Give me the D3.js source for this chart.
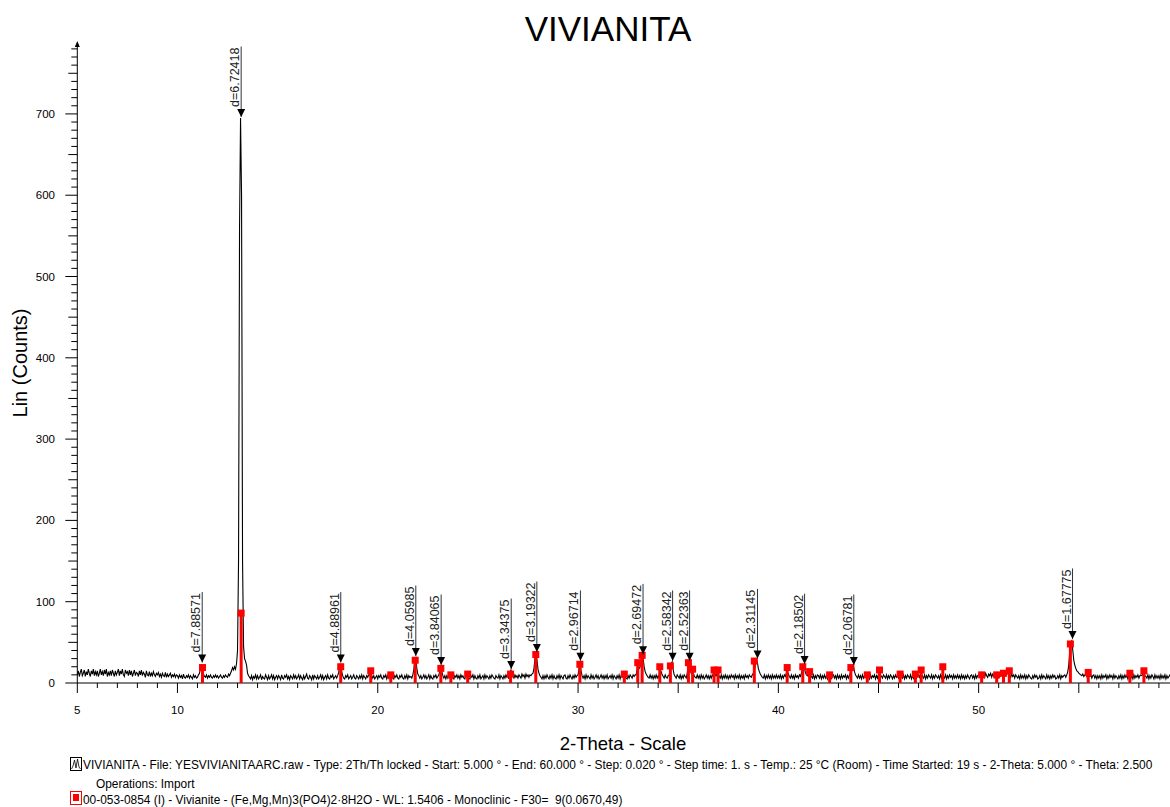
<!DOCTYPE html>
<html><head><meta charset="utf-8">
<script src="https://cdn.jsdelivr.net/npm/d3@7"></script>
<style>body{margin:0;background:#fff;} svg{display:block;font-family:"Liberation Sans",Arial,sans-serif;}</style>
</head><body><svg id="c" width="1170" height="807"></svg>
<script>
const chartTitle = "VIVIANITA";
const xTitle = "2-Theta - Scale";
const yTitle = "Lin (Counts)";
const xTickLabels = [5, 10, 20, 30, 40, 50];
const xMajorTicks = [5, 10, 20, 30, 35, 40, 45, 50, 55];
const yTickLabels = [0, 100, 200, 300, 400, 500, 600, 700];
const wavelength = 1.5406;
const patternStart = 5, patternStep = 0.05;
const counts = [
10,15,8,13,17,9,12,16,8,14,10,17,12,8,15,11,17,9,14,10,
15,8,12,17,10,14,9,16,11,17,8,13,10,15,9,16,12,8,15,10,
13,17,9,15,11,17,10,8,16,12,14,9,16,10,15,8,12,16,9,13,
12,8,15,10,16,9,13,11,7,15,10,9,14,8,12,9,14,10,8,12,
10,13,8,11,7,12,9,8,13,7,11,8,10,12,7,10,8,11,7,10,
9,6,10,7,9,5,11,7,6,9,7,10,6,9,7,5,10,7,9,6,
7,10,12,18,23,17,11,8,7,10,6,9,7,10,7,6,9,7,10,7,
9,6,8,10,7,6,9,7,10,8,7,11,9,12,15,19,16,20,17,24,
40,150,560,695,600,150,45,30,27,22,12,9,7,5,9,4,8,6,10,5,
9,5,7,10,4,8,6,5,10,7,4,9,5,7,10,5,9,4,7,9,
5,9,7,4,10,6,5,9,7,10,5,8,4,9,7,5,10,6,9,5,
7,10,5,9,6,4,9,5,8,11,6,5,9,7,4,10,5,9,7,5,
9,5,7,10,5,9,4,7,9,5,10,6,5,9,7,10,5,7,9,6,
9,13,21,23,14,9,6,5,9,7,10,5,7,9,5,7,10,6,5,9,
7,5,9,6,10,5,9,7,5,9,7,10,10,12,9,6,9,5,7,9,
5,9,7,10,6,5,9,7,10,5,9,6,10,10,8,6,5,9,7,10,
6,5,9,7,10,6,5,9,6,10,5,9,7,8,6,10,16,29,31,18,
11,9,6,9,5,7,10,6,9,5,7,10,5,9,6,5,9,7,10,6,
8,10,15,20,14,9,6,9,5,9,6,10,7,10,8,6,5,9,7,10,
6,9,5,10,7,9,6,5,10,10,8,6,5,9,7,10,5,9,6,5,
9,6,10,5,7,9,5,10,6,9,7,5,9,6,10,8,6,5,9,7,
6,10,5,9,7,5,9,6,10,7,9,5,13,16,11,8,6,10,7,9,
6,10,8,6,11,8,10,6,11,8,10,7,10,9,11,12,18,30,37,28,
17,12,9,7,5,9,5,9,6,10,7,5,9,6,10,5,9,6,5,9,
6,10,5,9,7,5,9,10,6,5,9,6,10,7,5,9,6,10,7,9,
10,18,26,15,9,6,9,5,10,6,9,7,5,10,6,9,5,7,10,6,
9,5,7,10,6,9,5,9,6,10,5,7,9,6,10,5,9,7,5,9,
6,10,5,9,7,9,11,8,6,5,9,6,10,8,6,10,8,10,10,17,
22,18,20,28,34,30,20,14,11,9,7,6,10,6,9,5,9,6,10,6,
9,6,13,14,10,8,6,10,7,6,9,10,15,24,26,16,10,8,6,10,
8,6,10,5,9,6,10,8,6,12,22,26,17,12,14,12,9,7,6,10,
6,9,5,10,6,9,5,7,10,6,9,5,9,6,10,8,11,9,11,8,
11,8,6,10,5,9,6,10,6,9,5,9,6,10,7,9,5,10,6,9,
6,10,5,9,6,9,5,10,7,9,6,10,8,7,10,12,16,22,28,26,
18,14,11,9,7,6,10,5,9,6,10,6,9,5,10,6,9,6,10,6,
9,6,10,5,9,6,10,8,12,14,11,8,6,10,6,9,5,10,7,9,
6,10,8,12,17,21,19,13,10,9,8,12,10,8,6,10,5,9,6,10,
9,6,10,5,9,6,10,6,9,5,10,8,11,6,9,10,6,9,5,10,
6,9,5,10,6,9,7,10,5,9,6,10,12,17,20,21,14,10,8,6,
10,6,9,5,10,6,9,11,9,6,9,5,10,6,9,7,10,5,9,6,
11,13,10,8,6,10,8,6,10,5,9,6,10,8,5,9,6,10,7,9,
6,10,11,8,6,10,5,9,6,10,8,6,10,5,9,6,11,9,6,9,
10,6,12,11,8,6,10,5,9,6,10,8,6,10,5,9,6,10,8,6,
9,5,10,6,11,8,6,10,5,9,6,10,7,9,5,10,6,9,6,10,
6,9,5,10,6,9,5,9,6,10,7,5,9,10,6,9,5,10,6,9,
10,11,8,12,9,11,7,12,9,7,11,9,12,7,11,9,7,11,9,12,
7,11,9,12,7,11,12,9,11,12,11,9,7,11,8,10,6,10,8,6,
9,5,10,6,9,6,10,5,9,6,10,8,6,5,9,6,10,7,9,5,
6,9,5,10,6,9,7,5,10,6,9,5,9,6,10,7,9,5,6,9,
6,10,5,9,7,9,10,7,10,14,22,40,50,52,40,28,22,18,15,14,
12,11,10,9,11,8,10,11,8,12,10,8,10,6,9,10,6,9,5,9,
6,9,5,10,6,9,7,10,5,9,6,10,7,9,5,10,6,9,7,5,
9,6,10,5,9,6,10,7,9,5,10,9,6,9,5,10,6,9,7,10,
6,9,10,9,11,12,9,8,6,10,5,9,6,10,8,5,10,6,9,6,
9,5,10,6,9,6,10,5,9,6,8,10,6,5,9,6,10,7,9,5,
7];
const peakD = ["7.88571","6.72418","4.88961","4.05985","3.84065","3.34375","3.19322","2.96714","2.69472","2.58342","2.52363","2.31145","2.18502","2.06781","1.67775"];
const peakTop = [24, 695, 24, 32, 21, 16, 37, 26, 34, 26, 26, 29, 22, 21, 53];
const refTwoTheta = [11.25,13.18,18.15,19.65,20.65,21.87,23.15,23.65,24.49,26.63,27.89,30.09,32.31,32.98,33.20,34.08,34.61,35.51,35.72,36.79,36.99,38.80,40.44,41.22,41.56,42.56,43.62,44.44,45.05,46.08,46.84,47.13,48.21,50.15,50.90,51.24,51.53,54.58,55.47,57.55,58.25];
const refIntensity = [19,86,20,15,10,28,18,10,11,11,35,23,11,25,34,20,21,25,17,16,16,27,19,20,14,10,19,10,16,11,11,16,20,10,10,12,15,48,13,12,15];
const legendLines = [
  "VIVIANITA - File: YESVIVIANITAARC.raw - Type: 2Th/Th locked - Start: 5.000 ° - End: 60.000 ° - Step: 0.020 ° - Step time: 1. s - Temp.: 25 °C (Room) - Time Started: 19 s - 2-Theta: 5.000 ° - Theta: 2.500",
  "Operations: Import",
  "00-053-0854 (I) - Vivianite - (Fe,Mg,Mn)3(PO4)2·8H2O - WL: 1.5406 - Monoclinic - F30=\u00a0 9(0.0670,49)"
];

const svg = d3.select("#c");
const x = d3.scaleLinear().domain([5, 60]).range([77.3, 77.3 + 55 * 20.03]);
const y = d3.scaleLinear().domain([0, 786]).range([683, 44]);

// title
svg.append("text").attr("x", 608).attr("y", 41).attr("text-anchor", "middle")
  .attr("font-size", 35).text(chartTitle);

// axes
const ax = svg.append("g").attr("stroke", "#000").attr("stroke-width", 1);
ax.append("line").attr("x1", x(5)).attr("x2", 1170).attr("y1", y(0)).attr("y2", y(0));
ax.append("line").attr("x1", x(5)).attr("x2", x(5)).attr("y1", y(0)).attr("y2", 44);
svg.append("path").attr("d", `M${x(5)},41 L${x(5)-2.5},47 L${x(5)+2.5},47 Z`).attr("fill", "#000");
d3.range(5, 60).forEach(v => {
  const len = xMajorTicks.includes(v) ? 10 : 5;
  ax.append("line").attr("x1", x(v)).attr("x2", x(v)).attr("y1", y(0)).attr("y2", y(0) + len);
});
d3.range(0, 790, 10).forEach(v => {
  const len = v % 100 === 0 ? 12 : (v % 50 === 0 ? 9 : 6);
  ax.append("line").attr("x1", x(5) - len).attr("x2", x(5)).attr("y1", y(v)).attr("y2", y(v));
});
svg.selectAll(".xl").data(xTickLabels).enter().append("text")
  .attr("x", d => x(d)).attr("y", 714).attr("text-anchor", "middle").attr("font-size", 11.5).text(d => d);
svg.selectAll(".yl").data(yTickLabels).enter().append("text")
  .attr("x", 55).attr("y", d => y(d) + 4).attr("text-anchor", "end").attr("font-size", 11.5).text(d => d);

svg.append("text").attr("x", 623).attr("y", 750).attr("text-anchor", "middle").attr("font-size", 18.5).text(xTitle);
svg.append("text").attr("transform", "translate(27,363) rotate(-90)").attr("text-anchor", "middle")
  .attr("font-size", 20).text(yTitle);

// pattern
const line = d3.line().x((d, i) => x(patternStart + i * patternStep)).y(d => y(d));
svg.append("path").datum(counts).attr("d", line).attr("fill", "none").attr("stroke", "#000").attr("stroke-width", 1.1);

// reference sticks
const refG = svg.append("g").attr("fill", "#f00");
refTwoTheta.forEach((t, i) => {
  const px = x(t), py = y(refIntensity[i]);
  refG.append("rect").attr("x", px - 1.5).attr("width", 3).attr("y", py).attr("height", y(0) - py);
  refG.append("rect").attr("x", px - 3.5).attr("y", py - 3.5).attr("width", 7).attr("height", 7);
});

// peak labels
const toTwoTheta = d => 2 * Math.asin(wavelength / (2 * d)) * 180 / Math.PI;
const lab = svg.append("g");
peakD.forEach((d, i) => {
  const px = x(toTwoTheta(+d)) + 0.5;
  const tip = y(peakTop[i]) - 1;
  const t = lab.append("text").attr("transform", `translate(${px - 2},${tip - 10}) rotate(-90)`)
    .attr("font-size", 12.5).attr("fill", "#222").text("d=" + d);
  const len = t.node().getComputedTextLength();
  const top = Math.max(44, tip - 10 - len - 1);
  lab.append("line").attr("x1", px).attr("x2", px).attr("y1", top).attr("y2", tip)
    .attr("stroke", "#333").attr("stroke-width", 1);
  lab.append("path").attr("d", `M${px-4},${tip-8} L${px+4},${tip-8} L${px},${tip} Z`).attr("fill", "#000");
});

// legend
const lg = svg.append("g").attr("font-size", 11.9);
lg.append("rect").attr("x", 70.5).attr("y", 757.5).attr("width", 11).attr("height", 13).attr("fill", "none").attr("stroke", "#000");
lg.append("path").attr("d", "M71.5,769 L73,766 L74.5,760 L76,768 L77.5,759 L79,767 L80.5,769").attr("fill", "none").attr("stroke", "#000").attr("stroke-width", 0.8);
lg.append("text").attr("x", 83).attr("y", 769).text(legendLines[0]);
lg.append("text").attr("x", 96).attr("y", 788).text(legendLines[1]);
lg.append("rect").attr("x", 70.5).attr("y", 791.5).attr("width", 11).attr("height", 13).attr("fill", "#fff").attr("stroke", "#f00");
lg.append("rect").attr("x", 73).attr("y", 794).attr("width", 6).attr("height", 7).attr("fill", "#f00");
lg.append("text").attr("x", 83).attr("y", 804).text(legendLines[2]);
</script></body></html>
